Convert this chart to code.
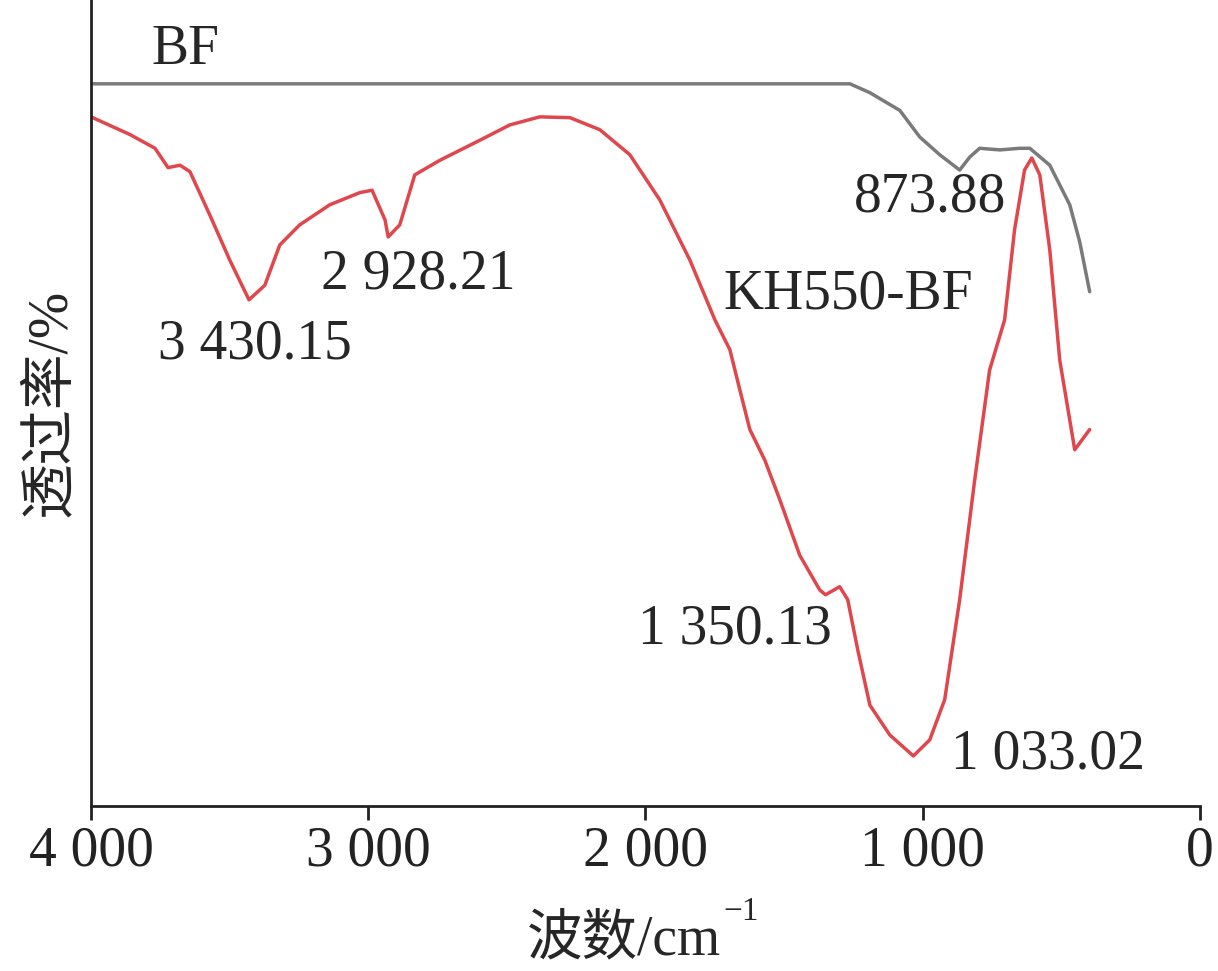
import numpy as np, pandas as pd, matplotlib
matplotlib.use("Agg")
import matplotlib.pyplot as plt, seaborn as sns

# wavenumber (cm-1) and transmittance (arb. %)
bf_wn = [4000, 3000, 2000, 1400, 1262, 1190, 1082, 1010, 938, 866, 830, 794, 721, 650, 613, 541, 469, 433, 397]
bf_t  = [89.6, 89.6, 89.6, 89.6, 89.6, 88.5, 86.3, 83.0, 80.8, 78.9, 80.5, 81.6, 81.4, 81.6, 81.6, 79.5, 74.6, 70.0, 63.8]
kh_wn = [4000, 3859, 3769, 3722, 3679, 3643, 3571, 3499, 3430, 3373, 3319, 3247, 3138, 3030, 2986, 2939, 2928, 2886, 2832,
         2742, 2597, 2489, 2381, 2272, 2164, 2056, 1948, 1839, 1749, 1695, 1659, 1623, 1569, 1515, 1443, 1371, 1350, 1299,
         1270, 1234, 1190, 1118, 1033, 974, 920, 866, 812, 758, 704, 668, 632, 606, 577, 541, 505, 451, 397]
kh_t  = [85.5, 83.3, 81.6, 79.2, 79.5, 78.7, 73.3, 67.7, 62.8, 64.6, 69.6, 72.1, 74.6, 76.1, 76.4, 72.7, 70.6, 72.1, 78.3,
         80.1, 82.6, 84.5, 85.5, 85.4, 83.9, 80.8, 75.2, 67.7, 60.3, 56.6, 51.6, 46.7, 42.9, 38.0, 31.1, 26.8, 26.2, 27.2,
         25.6, 19.4, 12.5, 8.8, 6.2, 8.2, 13.2, 25.6, 40.4, 54.1, 60.3, 71.5, 78.9, 80.4, 78.3, 69.0, 55.3, 44.2, 46.7]
xticks = [4000, 3000, 2000, 1000, 0]
xticklabels = ["4 000", "3 000", "2 000", "1 000", "0"]

df = pd.concat([pd.DataFrame({"wn": bf_wn, "t": bf_t, "s": "BF"}),
                pd.DataFrame({"wn": kh_wn, "t": kh_t, "s": "KH550-BF"})])

sns.set_style("ticks")
fam = ['Liberation Serif', 'Noto Sans CJK SC']
plt.rcParams['font.family'] = fam
FS = 40
fig = plt.figure(figsize=(12.18, 9.71), dpi=100)
ax = fig.add_axes([0.0747, 0.170, 0.9103, 0.830])
sns.lineplot(data=df, x="wn", y="t", hue="s", palette={"BF": "#7a7a7a", "KH550-BF": "#e0474c"},
             sort=False, estimator=None, lw=2.5, legend=False, ax=ax)
ax.set_xlim(4000, 0); ax.set_ylim(0, 100)
ax.set_xticks(xticks)
ax.set_xticklabels(xticklabels, fontsize=FS)
ax.set_yticks([])
ax.tick_params(axis='x', direction='out', length=10, width=2, pad=4, colors='#222222')
for s in ["top", "right"]:
    ax.spines[s].set_visible(False)
for s in ["left", "bottom"]:
    ax.spines[s].set_linewidth(2); ax.spines[s].set_color('#222222')
ax.set_xlabel("")
ax.set_ylabel("透过率/%", fontsize=FS, labelpad=10)
fig.text(0.592, 0.005, "波数/cm", fontsize=FS, ha="right", va="bottom")
fig.text(0.594, 0.045, "−1", fontsize=24, ha="left", va="bottom")

def px2d(px, py):
    return ((1200 - px) / 0.27725, (806 - py) / 8.06)
labels = [("BF", 185, 50), ("873.88", 930, 198), ("3 430.15", 255, 345), ("2 928.21", 418, 275),
          ("KH550-BF", 848, 295), ("1 350.13", 735, 630), ("1 033.02", 1048, 755)]
for txt, px, py in labels:
    x, y = px2d(px, py)
    ax.text(x, y, txt, fontsize=FS, ha="center", va="center")
fig.savefig("out.png", dpi=100)
